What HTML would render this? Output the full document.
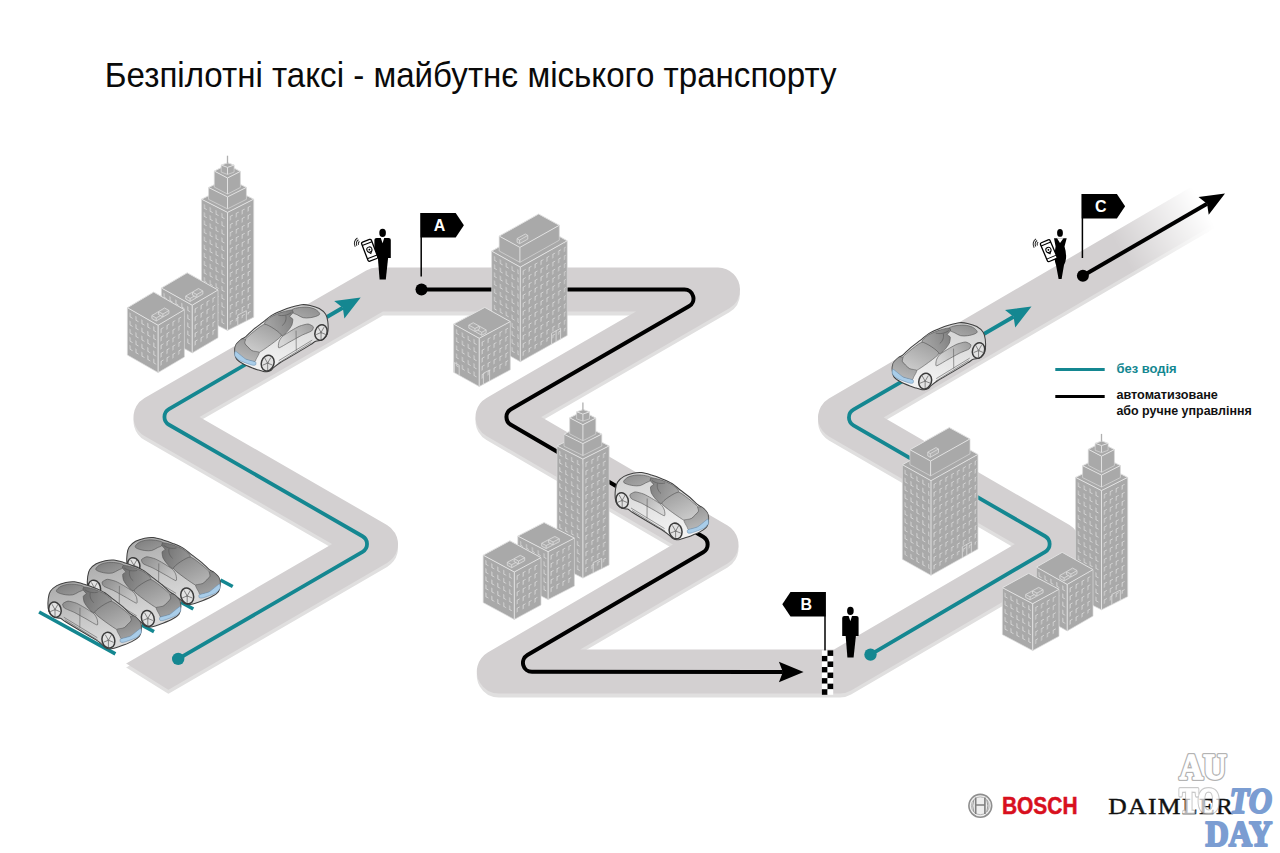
<!DOCTYPE html><html><head><meta charset="utf-8"><style>html,body{margin:0;padding:0;background:#fff;width:1280px;height:853px;overflow:hidden}svg{display:block}text{font-family:"Liberation Sans",sans-serif}</style></head><body>
<svg width="1280" height="853" viewBox="0 0 1280 853">
<defs>
<linearGradient id="fade" gradientUnits="userSpaceOnUse" x1="1121.7" y1="253" x2="1203" y2="205.5"><stop offset="0" stop-color="#fff"/><stop offset="1" stop-color="#000"/></linearGradient>
<mask id="roadmask" maskUnits="userSpaceOnUse" x="0" y="0" width="1280" height="853"><rect x="0" y="0" width="1280" height="853" fill="url(#fade)"/></mask>
<clipPath id="roadclip"><polygon points="-702.7,146.7 997.3,1206.7 2000,1500 2000,-500 -900,-500"/></clipPath>
</defs>
<g mask="url(#roadmask)">
<g transform="translate(0,4)"><path d="M120 692.5 L376 544 L155.5 417 L377.2 289.5 L718 289.5 L497.5 417 L716.5 544.5 L498.8 671.5 L840 671.5 L1058.5 544 L840 417.5 L1300 148.9" clip-path="url(#roadclip)" fill="none" stroke="#e0dfdf" stroke-width="44" stroke-linejoin="round"/></g>
<path d="M120 692.5 L376 544 L155.5 417 L377.2 289.5 L718 289.5 L497.5 417 L716.5 544.5 L498.8 671.5 L840 671.5 L1058.5 544 L840 417.5 L1300 148.9" clip-path="url(#roadclip)" fill="none" stroke="#d3d0d1" stroke-width="44" stroke-linejoin="round"/>
</g>
<path d="M178.2 658.9 L362.55 551.82 A9 9 0 0 0 362.52 536.23 L168.95 424.75 A9 9 0 0 1 168.91 409.18 L342.77 307.75" fill="none" stroke="#148791" stroke-width="3.8"/>
<polygon points="360.7,297.4 344.41,318.58 342.77,307.75 334.21,300.92" fill="#148791"/>
<circle cx="178.2" cy="658.9" r="6.2" fill="#148791"/>
<path d="M421.5 289.5 L684.46 289.5 A9 9 0 0 1 688.96 306.29 L510.93 409.24 A9 9 0 0 0 510.91 424.8 L703.17 536.74 A9 9 0 0 1 703.18 552.29 L527.44 655.05 A9 9 0 0 0 531.97 671.82 L782.9 672" fill="none" stroke="#000" stroke-width="4"/>
<polygon points="803.6,672 778.9,682.2 782.9,672 778.9,661.8" fill="#000"/>
<circle cx="421.5" cy="289.5" r="6" fill="#000"/>
<path d="M870.5 654.6 L1045.21 551.82 A9 9 0 0 0 1045.15 536.27 L853.44 425.28 A9 9 0 0 1 853.43 409.71 L1013.57 316.75" fill="none" stroke="#148791" stroke-width="3.8"/>
<polygon points="1031.5,306.4 1015.21,327.58 1013.57,316.75 1005.01,309.92" fill="#148791"/>
<circle cx="870.5" cy="654.6" r="6.2" fill="#148791"/>
<path d="M1082.9 275.7 L1207.07 203.85" fill="none" stroke="#000" stroke-width="4"/>
<polygon points="1225,193.5 1208.71,214.68 1207.07,203.85 1198.51,197.02" fill="#000"/>
<circle cx="1082.9" cy="275.7" r="6" fill="#000"/>
<polygon points="201.6,199.2 227.5,212.4 227.5,330.4 201.6,317.2" fill="#a9a9a9"/>
<polygon points="227.5,212.4 253.7,199.2 253.7,317.2 227.5,330.4" fill="#a9a9a9"/>
<defs><pattern id="wp1" patternUnits="userSpaceOnUse" width="5.9" height="8.1" patternTransform="translate(202.8,201.7) skewY(27.01)"><path d="M1.6 1.8 V5.8 L3.9 5.8" fill="none" stroke="#d6d6d6" stroke-width="0.9"/></pattern></defs>
<defs><pattern id="wp2" patternUnits="userSpaceOnUse" width="5.9" height="8.1" patternTransform="translate(228.7,214.9) skewY(-26.74)"><path d="M1.8 6.2 V2.2 L4.1 2.2" fill="none" stroke="#d6d6d6" stroke-width="0.9"/></pattern></defs>
<polygon points="203.1,201.2 226,214.4 226,325.4 203.1,312.2" fill="url(#wp1)"/>
<polygon points="229,214.4 252.2,201.2 252.2,312.2 229,325.4" fill="url(#wp2)"/>
<polygon points="201.6,199.2 227.8,186 253.7,199.2 227.5,212.4" fill="#a9a9a9" stroke="#e2e2e2" stroke-width="1" stroke-linejoin="round"/>
<polyline points="227.5,212.4 227.5,330.4" fill="none" stroke="#e2e2e2" stroke-width="1"/>
<polyline points="201.6,199.2 201.6,317.2 227.5,330.4 253.7,317.2 253.7,199.2" fill="none" stroke="#d9d9d9" stroke-width="0.7" stroke-linejoin="round"/>
<polygon points="208.6,187.5 227.5,196.9 227.5,208.85 208.6,199.45" fill="#a9a9a9"/>
<polygon points="227.5,196.9 246.4,187.4 246.4,199.35 227.5,208.85" fill="#a9a9a9"/>
<polygon points="208.6,187.5 227.5,178 246.4,187.4 227.5,196.9" fill="#a9a9a9" stroke="#e2e2e2" stroke-width="1" stroke-linejoin="round"/>
<polyline points="227.5,196.9 227.5,208.85" fill="none" stroke="#e2e2e2" stroke-width="1"/>
<polyline points="208.6,187.5 208.6,199.45 227.5,208.85 246.4,199.35 246.4,187.4" fill="none" stroke="#d9d9d9" stroke-width="0.7" stroke-linejoin="round"/>
<polygon points="214.3,171.1 227.5,178 227.5,194.05 214.3,187.15" fill="#a9a9a9"/>
<polygon points="227.5,178 240.4,171.4 240.4,187.45 227.5,194.05" fill="#a9a9a9"/>
<polygon points="214.3,171.1 227.2,164.5 240.4,171.4 227.5,178" fill="#a9a9a9" stroke="#e2e2e2" stroke-width="1" stroke-linejoin="round"/>
<polyline points="227.5,178 227.5,194.05" fill="none" stroke="#e2e2e2" stroke-width="1"/>
<polyline points="214.3,171.1 214.3,187.15 227.5,194.05 240.4,187.45 240.4,171.4" fill="none" stroke="#d9d9d9" stroke-width="0.7" stroke-linejoin="round"/>
<polygon points="221.2,165.1 227.5,167.4 227.5,174.43 221.2,172.13" fill="#a9a9a9"/>
<polygon points="227.5,167.4 234.1,165.1 234.1,172.13 227.5,174.43" fill="#a9a9a9"/>
<polygon points="221.2,165.1 227.8,162.8 234.1,165.1 227.5,167.4" fill="#a9a9a9" stroke="#e2e2e2" stroke-width="1" stroke-linejoin="round"/>
<polyline points="227.5,167.4 227.5,174.43" fill="none" stroke="#e2e2e2" stroke-width="1"/>
<polyline points="221.2,165.1 221.2,172.13 227.5,174.43 234.1,172.13 234.1,165.1" fill="none" stroke="#d9d9d9" stroke-width="0.7" stroke-linejoin="round"/>
<line x1="227.5" y1="163.4" x2="227.5" y2="155.7" stroke="#b0b0b0" stroke-width="1.3"/>
<path d="M237.8 325.1 l0 -10 l8.5 -4.4 l0 10" fill="none" stroke="#dedede" stroke-width="0.8"/>
<polygon points="161.4,288 192.2,305.2 192.2,352.9 161.4,335.7" fill="#a9a9a9"/>
<polygon points="192.2,305.2 218,290 218,337.7 192.2,352.9" fill="#a9a9a9"/>
<defs><pattern id="wp3" patternUnits="userSpaceOnUse" width="5.9" height="8.1" patternTransform="translate(162.6,290.5) skewY(29.18)"><path d="M1.6 1.8 V5.8 L3.9 5.8" fill="none" stroke="#d6d6d6" stroke-width="0.9"/></pattern></defs>
<defs><pattern id="wp4" patternUnits="userSpaceOnUse" width="5.9" height="8.1" patternTransform="translate(193.4,307.7) skewY(-30.5)"><path d="M1.8 6.2 V2.2 L4.1 2.2" fill="none" stroke="#d6d6d6" stroke-width="0.9"/></pattern></defs>
<polygon points="162.9,290 190.7,307.2 190.7,347.9 162.9,330.7" fill="url(#wp3)"/>
<polygon points="193.7,307.2 216.5,292 216.5,332.7 193.7,347.9" fill="url(#wp4)"/>
<polygon points="161.4,288 187.2,272.8 218,290 192.2,305.2" fill="#a9a9a9" stroke="#e2e2e2" stroke-width="1" stroke-linejoin="round"/>
<polyline points="192.2,305.2 192.2,352.9" fill="none" stroke="#e2e2e2" stroke-width="1"/>
<polyline points="161.4,288 161.4,335.7 192.2,352.9 218,337.7 218,290" fill="none" stroke="#d9d9d9" stroke-width="0.7" stroke-linejoin="round"/>
<path d="M190.11 298.48 L185.74 296.04 L191.77 292.48 L196.14 294.92 Z M185.74 296.04 L185.74 299.04 L190.11 301.48 L196.14 297.92 L196.14 294.92 M190.11 301.48 L190.11 298.48" fill="#b0b0b0" stroke="#dedede" stroke-width="0.8" stroke-linejoin="round"/>
<path d="M196.83 294.52 L192.46 292.08 L198.49 288.52 L202.86 290.96 Z M192.46 292.08 L192.46 295.08 L196.83 297.52 L202.86 293.96 L202.86 290.96 M196.83 297.52 L196.83 294.52" fill="#b0b0b0" stroke="#dedede" stroke-width="0.8" stroke-linejoin="round"/>
<polygon points="127.4,307.7 158.1,325.3 158.1,372.6 127.4,355" fill="#a9a9a9"/>
<polygon points="158.1,325.3 184.4,309.7 184.4,357 158.1,372.6" fill="#a9a9a9"/>
<defs><pattern id="wp5" patternUnits="userSpaceOnUse" width="5.9" height="8.1" patternTransform="translate(128.6,310.2) skewY(29.83)"><path d="M1.6 1.8 V5.8 L3.9 5.8" fill="none" stroke="#d6d6d6" stroke-width="0.9"/></pattern></defs>
<defs><pattern id="wp6" patternUnits="userSpaceOnUse" width="5.9" height="8.1" patternTransform="translate(159.3,327.8) skewY(-30.67)"><path d="M1.8 6.2 V2.2 L4.1 2.2" fill="none" stroke="#d6d6d6" stroke-width="0.9"/></pattern></defs>
<polygon points="128.9,309.7 156.6,327.3 156.6,367.6 128.9,350" fill="url(#wp5)"/>
<polygon points="159.6,327.3 182.9,311.7 182.9,352 159.6,367.6" fill="url(#wp6)"/>
<polygon points="127.4,307.7 153.7,292.1 184.4,309.7 158.1,325.3" fill="#a9a9a9" stroke="#e2e2e2" stroke-width="1" stroke-linejoin="round"/>
<polyline points="158.1,325.3 158.1,372.6" fill="none" stroke="#e2e2e2" stroke-width="1"/>
<polyline points="127.4,307.7 127.4,355 158.1,372.6 184.4,357 184.4,309.7" fill="none" stroke="#d9d9d9" stroke-width="0.7" stroke-linejoin="round"/>
<path d="M156.2 318.02 L151.87 315.53 L157.89 311.96 L162.22 314.45 Z M151.87 315.53 L151.87 318.53 L156.2 321.02 L162.22 317.45 L162.22 314.45 M156.2 321.02 L156.2 318.02" fill="#b0b0b0" stroke="#dedede" stroke-width="0.8" stroke-linejoin="round"/>
<path d="M162.91 314.04 L158.58 311.55 L164.6 307.98 L168.93 310.47 Z M158.58 311.55 L158.58 314.55 L162.91 317.04 L168.93 313.47 L168.93 310.47 M162.91 317.04 L162.91 314.04" fill="#b0b0b0" stroke="#dedede" stroke-width="0.8" stroke-linejoin="round"/>
<polygon points="491.7,251.1 520.3,267.1 520.3,361.7 491.7,345.7" fill="#a9a9a9"/>
<polygon points="520.3,267.1 567.2,240.8 567.2,335.4 520.3,361.7" fill="#a9a9a9"/>
<defs><pattern id="wp7" patternUnits="userSpaceOnUse" width="5.9" height="8.1" patternTransform="translate(492.9,253.6) skewY(29.22)"><path d="M1.6 1.8 V5.8 L3.9 5.8" fill="none" stroke="#d6d6d6" stroke-width="0.9"/></pattern></defs>
<defs><pattern id="wp8" patternUnits="userSpaceOnUse" width="5.9" height="8.1" patternTransform="translate(521.5,269.6) skewY(-29.28)"><path d="M1.8 6.2 V2.2 L4.1 2.2" fill="none" stroke="#d6d6d6" stroke-width="0.9"/></pattern></defs>
<polygon points="493.2,253.1 518.8,269.1 518.8,356.7 493.2,340.7" fill="url(#wp7)"/>
<polygon points="521.8,269.1 565.7,242.8 565.7,330.4 521.8,356.7" fill="url(#wp8)"/>
<polygon points="491.7,251.1 538.6,224.8 567.2,240.8 520.3,267.1" fill="#a9a9a9" stroke="#e2e2e2" stroke-width="1" stroke-linejoin="round"/>
<polyline points="520.3,267.1 520.3,361.7" fill="none" stroke="#e2e2e2" stroke-width="1"/>
<polyline points="491.7,251.1 491.7,345.7 520.3,361.7 567.2,335.4 567.2,240.8" fill="none" stroke="#d9d9d9" stroke-width="0.7" stroke-linejoin="round"/>
<polygon points="499.2,236.1 519.9,247.4 519.9,262.3 499.2,251" fill="#a9a9a9"/>
<polygon points="519.9,247.4 559.3,225.3 559.3,240.2 519.9,262.3" fill="#a9a9a9"/>
<polygon points="499.2,236.1 538.6,214 559.3,225.3 519.9,247.4" fill="#a9a9a9" stroke="#e2e2e2" stroke-width="1" stroke-linejoin="round"/>
<polyline points="519.9,247.4 519.9,262.3" fill="none" stroke="#e2e2e2" stroke-width="1"/>
<polyline points="499.2,236.1 499.2,251 519.9,262.3 559.3,240.2 559.3,225.3" fill="none" stroke="#d9d9d9" stroke-width="0.7" stroke-linejoin="round"/>
<path d="M519.6 240 L517.07 238.58 L525.27 233.99 L527.8 235.4 Z M517.07 238.58 L517.07 242.28 L519.6 243.7 L527.8 239.1 L527.8 235.4 M519.6 243.7 L519.6 240" fill="#b0b0b0" stroke="#dedede" stroke-width="0.8" stroke-linejoin="round"/>
<path d="M551.6 344.3 l0 -11 l9 -5.05 l0 11 M556.1 341.8 l0 -11" fill="none" stroke="#dedede" stroke-width="0.8"/>
<polygon points="453.7,324.1 479.2,338.3 479.2,386.5 453.7,372.3" fill="#a9a9a9"/>
<polygon points="479.2,338.3 510.3,321.6 510.3,369.8 479.2,386.5" fill="#a9a9a9"/>
<defs><pattern id="wp9" patternUnits="userSpaceOnUse" width="5.9" height="8.1" patternTransform="translate(454.9,326.6) skewY(29.11)"><path d="M1.6 1.8 V5.8 L3.9 5.8" fill="none" stroke="#d6d6d6" stroke-width="0.9"/></pattern></defs>
<defs><pattern id="wp10" patternUnits="userSpaceOnUse" width="5.9" height="8.1" patternTransform="translate(480.4,340.8) skewY(-28.23)"><path d="M1.8 6.2 V2.2 L4.1 2.2" fill="none" stroke="#d6d6d6" stroke-width="0.9"/></pattern></defs>
<polygon points="455.2,326.1 477.7,340.3 477.7,381.5 455.2,367.3" fill="url(#wp9)"/>
<polygon points="480.7,340.3 508.8,323.6 508.8,364.8 480.7,381.5" fill="url(#wp10)"/>
<polygon points="453.7,324.1 484.8,307.4 510.3,321.6 479.2,338.3" fill="#a9a9a9" stroke="#e2e2e2" stroke-width="1" stroke-linejoin="round"/>
<polyline points="479.2,338.3 479.2,386.5" fill="none" stroke="#e2e2e2" stroke-width="1"/>
<polyline points="453.7,324.1 453.7,372.3 479.2,386.5 510.3,369.8 510.3,321.6" fill="none" stroke="#d9d9d9" stroke-width="0.7" stroke-linejoin="round"/>
<path d="M481.76 332.28 L475.65 328.88 L480.05 326.51 L486.17 329.92 Z M475.65 328.88 L475.65 331.88 L481.76 335.28 L486.17 332.92 L486.17 329.92 M481.76 335.28 L481.76 332.28" fill="#b0b0b0" stroke="#dedede" stroke-width="0.8" stroke-linejoin="round"/>
<path d="M474.95 328.49 L468.83 325.08 L473.24 322.72 L479.35 326.12 Z M468.83 325.08 L468.83 328.08 L474.95 331.49 L479.35 329.12 L479.35 326.12 M474.95 331.49 L474.95 328.49" fill="#b0b0b0" stroke="#dedede" stroke-width="0.8" stroke-linejoin="round"/>
<path d="M454.4 372.6 v-10 l4.8 2.7 v10 M483.4 384.3 v-11 l6.2 -3.3 v11" fill="none" stroke="#dedede" stroke-width="0.8"/>
<polygon points="557,445.9 582.9,459.1 582.9,578.1 557,564.9" fill="#a9a9a9"/>
<polygon points="582.9,459.1 609.1,445.9 609.1,564.9 582.9,578.1" fill="#a9a9a9"/>
<defs><pattern id="wp11" patternUnits="userSpaceOnUse" width="5.9" height="8.1" patternTransform="translate(558.2,448.4) skewY(27.01)"><path d="M1.6 1.8 V5.8 L3.9 5.8" fill="none" stroke="#d6d6d6" stroke-width="0.9"/></pattern></defs>
<defs><pattern id="wp12" patternUnits="userSpaceOnUse" width="5.9" height="8.1" patternTransform="translate(584.1,461.6) skewY(-26.74)"><path d="M1.8 6.2 V2.2 L4.1 2.2" fill="none" stroke="#d6d6d6" stroke-width="0.9"/></pattern></defs>
<polygon points="558.5,447.9 581.4,461.1 581.4,573.1 558.5,559.9" fill="url(#wp11)"/>
<polygon points="584.4,461.1 607.6,447.9 607.6,559.9 584.4,573.1" fill="url(#wp12)"/>
<polygon points="557,445.9 583.2,432.7 609.1,445.9 582.9,459.1" fill="#a9a9a9" stroke="#e2e2e2" stroke-width="1" stroke-linejoin="round"/>
<polyline points="582.9,459.1 582.9,578.1" fill="none" stroke="#e2e2e2" stroke-width="1"/>
<polyline points="557,445.9 557,564.9 582.9,578.1 609.1,564.9 609.1,445.9" fill="none" stroke="#d9d9d9" stroke-width="0.7" stroke-linejoin="round"/>
<polygon points="564,434.2 582.9,443.6 582.9,455.55 564,446.15" fill="#a9a9a9"/>
<polygon points="582.9,443.6 601.8,434.1 601.8,446.05 582.9,455.55" fill="#a9a9a9"/>
<polygon points="564,434.2 582.9,424.7 601.8,434.1 582.9,443.6" fill="#a9a9a9" stroke="#e2e2e2" stroke-width="1" stroke-linejoin="round"/>
<polyline points="582.9,443.6 582.9,455.55" fill="none" stroke="#e2e2e2" stroke-width="1"/>
<polyline points="564,434.2 564,446.15 582.9,455.55 601.8,446.05 601.8,434.1" fill="none" stroke="#d9d9d9" stroke-width="0.7" stroke-linejoin="round"/>
<polygon points="569.7,417.8 582.9,424.7 582.9,440.75 569.7,433.85" fill="#a9a9a9"/>
<polygon points="582.9,424.7 595.8,418.1 595.8,434.15 582.9,440.75" fill="#a9a9a9"/>
<polygon points="569.7,417.8 582.6,411.2 595.8,418.1 582.9,424.7" fill="#a9a9a9" stroke="#e2e2e2" stroke-width="1" stroke-linejoin="round"/>
<polyline points="582.9,424.7 582.9,440.75" fill="none" stroke="#e2e2e2" stroke-width="1"/>
<polyline points="569.7,417.8 569.7,433.85 582.9,440.75 595.8,434.15 595.8,418.1" fill="none" stroke="#d9d9d9" stroke-width="0.7" stroke-linejoin="round"/>
<polygon points="576.6,411.8 582.9,414.1 582.9,421.13 576.6,418.83" fill="#a9a9a9"/>
<polygon points="582.9,414.1 589.5,411.8 589.5,418.83 582.9,421.13" fill="#a9a9a9"/>
<polygon points="576.6,411.8 583.2,409.5 589.5,411.8 582.9,414.1" fill="#a9a9a9" stroke="#e2e2e2" stroke-width="1" stroke-linejoin="round"/>
<polyline points="582.9,414.1 582.9,421.13" fill="none" stroke="#e2e2e2" stroke-width="1"/>
<polyline points="576.6,411.8 576.6,418.83 582.9,421.13 589.5,418.83 589.5,411.8" fill="none" stroke="#d9d9d9" stroke-width="0.7" stroke-linejoin="round"/>
<line x1="582.9" y1="410.1" x2="582.9" y2="402.4" stroke="#b0b0b0" stroke-width="1.3"/>
<path d="M593.2 572.8 l0 -10 l8.5 -4.4 l0 10" fill="none" stroke="#dedede" stroke-width="0.8"/>
<polygon points="517.8,536.1 548.1,551.7 548.1,599.6 517.8,584" fill="#a9a9a9"/>
<polygon points="548.1,551.7 574.4,538.1 574.4,586 548.1,599.6" fill="#a9a9a9"/>
<defs><pattern id="wp13" patternUnits="userSpaceOnUse" width="5.9" height="8.1" patternTransform="translate(519,538.6) skewY(27.24)"><path d="M1.6 1.8 V5.8 L3.9 5.8" fill="none" stroke="#d6d6d6" stroke-width="0.9"/></pattern></defs>
<defs><pattern id="wp14" patternUnits="userSpaceOnUse" width="5.9" height="8.1" patternTransform="translate(549.3,554.2) skewY(-27.34)"><path d="M1.8 6.2 V2.2 L4.1 2.2" fill="none" stroke="#d6d6d6" stroke-width="0.9"/></pattern></defs>
<polygon points="519.3,538.1 546.6,553.7 546.6,594.6 519.3,579" fill="url(#wp13)"/>
<polygon points="549.6,553.7 572.9,540.1 572.9,581 549.6,594.6" fill="url(#wp14)"/>
<polygon points="517.8,536.1 544.1,522.5 574.4,538.1 548.1,551.7" fill="#a9a9a9" stroke="#e2e2e2" stroke-width="1" stroke-linejoin="round"/>
<polyline points="548.1,551.7 548.1,599.6" fill="none" stroke="#e2e2e2" stroke-width="1"/>
<polyline points="517.8,536.1 517.8,584 548.1,599.6 574.4,586 574.4,538.1" fill="none" stroke="#d9d9d9" stroke-width="0.7" stroke-linejoin="round"/>
<path d="M546.15 545.54 L541.7 543.25 L547.92 540.04 L552.37 542.33 Z M541.7 543.25 L541.7 546.25 L546.15 548.54 L552.37 545.33 L552.37 542.33 M546.15 548.54 L546.15 545.54" fill="#b0b0b0" stroke="#dedede" stroke-width="0.8" stroke-linejoin="round"/>
<path d="M553.08 541.96 L548.63 539.67 L554.85 536.46 L559.3 538.75 Z M548.63 539.67 L548.63 542.67 L553.08 544.96 L559.3 541.75 L559.3 538.75 M553.08 544.96 L553.08 541.96" fill="#b0b0b0" stroke="#dedede" stroke-width="0.8" stroke-linejoin="round"/>
<polygon points="483.2,555.2 514.3,572 514.3,619.4 483.2,602.6" fill="#a9a9a9"/>
<polygon points="514.3,572 541,557.6 541,605 514.3,619.4" fill="#a9a9a9"/>
<defs><pattern id="wp15" patternUnits="userSpaceOnUse" width="5.9" height="8.1" patternTransform="translate(484.4,557.7) skewY(28.38)"><path d="M1.6 1.8 V5.8 L3.9 5.8" fill="none" stroke="#d6d6d6" stroke-width="0.9"/></pattern></defs>
<defs><pattern id="wp16" patternUnits="userSpaceOnUse" width="5.9" height="8.1" patternTransform="translate(515.5,574.5) skewY(-28.34)"><path d="M1.8 6.2 V2.2 L4.1 2.2" fill="none" stroke="#d6d6d6" stroke-width="0.9"/></pattern></defs>
<polygon points="484.7,557.2 512.8,574 512.8,614.4 484.7,597.6" fill="url(#wp15)"/>
<polygon points="515.8,574 539.5,559.6 539.5,600 515.8,614.4" fill="url(#wp16)"/>
<polygon points="483.2,555.2 509.9,540.8 541,557.6 514.3,572" fill="#a9a9a9" stroke="#e2e2e2" stroke-width="1" stroke-linejoin="round"/>
<polyline points="514.3,572 514.3,619.4" fill="none" stroke="#e2e2e2" stroke-width="1"/>
<polyline points="483.2,555.2 483.2,602.6 514.3,619.4 541,605 541,557.6" fill="none" stroke="#d9d9d9" stroke-width="0.7" stroke-linejoin="round"/>
<path d="M511.69 564.7 L507.29 562.32 L513.45 559 L517.85 561.38 Z M507.29 562.32 L507.29 565.32 L511.69 567.7 L517.85 564.38 L517.85 561.38 M511.69 567.7 L511.69 564.7" fill="#b0b0b0" stroke="#dedede" stroke-width="0.8" stroke-linejoin="round"/>
<path d="M518.55 561 L514.15 558.62 L520.31 555.3 L524.71 557.68 Z M514.15 558.62 L514.15 561.62 L518.55 564 L524.71 560.68 L524.71 557.68 M518.55 564 L518.55 561" fill="#b0b0b0" stroke="#dedede" stroke-width="0.8" stroke-linejoin="round"/>
<polygon points="902.4,464.7 931,480.7 931,575.3 902.4,559.3" fill="#a9a9a9"/>
<polygon points="931,480.7 977.9,454.4 977.9,549 931,575.3" fill="#a9a9a9"/>
<defs><pattern id="wp17" patternUnits="userSpaceOnUse" width="5.9" height="8.1" patternTransform="translate(903.6,467.2) skewY(29.22)"><path d="M1.6 1.8 V5.8 L3.9 5.8" fill="none" stroke="#d6d6d6" stroke-width="0.9"/></pattern></defs>
<defs><pattern id="wp18" patternUnits="userSpaceOnUse" width="5.9" height="8.1" patternTransform="translate(932.2,483.2) skewY(-29.28)"><path d="M1.8 6.2 V2.2 L4.1 2.2" fill="none" stroke="#d6d6d6" stroke-width="0.9"/></pattern></defs>
<polygon points="903.9,466.7 929.5,482.7 929.5,570.3 903.9,554.3" fill="url(#wp17)"/>
<polygon points="932.5,482.7 976.4,456.4 976.4,544 932.5,570.3" fill="url(#wp18)"/>
<polygon points="902.4,464.7 949.3,438.4 977.9,454.4 931,480.7" fill="#a9a9a9" stroke="#e2e2e2" stroke-width="1" stroke-linejoin="round"/>
<polyline points="931,480.7 931,575.3" fill="none" stroke="#e2e2e2" stroke-width="1"/>
<polyline points="902.4,464.7 902.4,559.3 931,575.3 977.9,549 977.9,454.4" fill="none" stroke="#d9d9d9" stroke-width="0.7" stroke-linejoin="round"/>
<polygon points="909.9,449.7 930.6,461 930.6,475.9 909.9,464.6" fill="#a9a9a9"/>
<polygon points="930.6,461 970,438.9 970,453.8 930.6,475.9" fill="#a9a9a9"/>
<polygon points="909.9,449.7 949.3,427.6 970,438.9 930.6,461" fill="#a9a9a9" stroke="#e2e2e2" stroke-width="1" stroke-linejoin="round"/>
<polyline points="930.6,461 930.6,475.9" fill="none" stroke="#e2e2e2" stroke-width="1"/>
<polyline points="909.9,449.7 909.9,464.6 930.6,475.9 970,453.8 970,438.9" fill="none" stroke="#d9d9d9" stroke-width="0.7" stroke-linejoin="round"/>
<path d="M930.3 453.6 L927.77 452.18 L935.97 447.59 L938.5 449 Z M927.77 452.18 L927.77 455.88 L930.3 457.3 L938.5 452.7 L938.5 449 M930.3 457.3 L930.3 453.6" fill="#b0b0b0" stroke="#dedede" stroke-width="0.8" stroke-linejoin="round"/>
<path d="M962.3 557.9 l0 -11 l9 -5.05 l0 11 M966.8 555.4 l0 -11" fill="none" stroke="#dedede" stroke-width="0.8"/>
<polygon points="1075.6,477.4 1101.5,490.6 1101.5,609.8 1075.6,596.6" fill="#a9a9a9"/>
<polygon points="1101.5,490.6 1127.7,477.4 1127.7,596.6 1101.5,609.8" fill="#a9a9a9"/>
<defs><pattern id="wp19" patternUnits="userSpaceOnUse" width="5.9" height="8.1" patternTransform="translate(1076.8,479.9) skewY(27.01)"><path d="M1.6 1.8 V5.8 L3.9 5.8" fill="none" stroke="#d6d6d6" stroke-width="0.9"/></pattern></defs>
<defs><pattern id="wp20" patternUnits="userSpaceOnUse" width="5.9" height="8.1" patternTransform="translate(1102.7,493.1) skewY(-26.74)"><path d="M1.8 6.2 V2.2 L4.1 2.2" fill="none" stroke="#d6d6d6" stroke-width="0.9"/></pattern></defs>
<polygon points="1077.1,479.4 1100,492.6 1100,604.8 1077.1,591.6" fill="url(#wp19)"/>
<polygon points="1103,492.6 1126.2,479.4 1126.2,591.6 1103,604.8" fill="url(#wp20)"/>
<polygon points="1075.6,477.4 1101.8,464.2 1127.7,477.4 1101.5,490.6" fill="#a9a9a9" stroke="#e2e2e2" stroke-width="1" stroke-linejoin="round"/>
<polyline points="1101.5,490.6 1101.5,609.8" fill="none" stroke="#e2e2e2" stroke-width="1"/>
<polyline points="1075.6,477.4 1075.6,596.6 1101.5,609.8 1127.7,596.6 1127.7,477.4" fill="none" stroke="#d9d9d9" stroke-width="0.7" stroke-linejoin="round"/>
<polygon points="1082.6,465.7 1101.5,475.1 1101.5,487.05 1082.6,477.65" fill="#a9a9a9"/>
<polygon points="1101.5,475.1 1120.4,465.6 1120.4,477.55 1101.5,487.05" fill="#a9a9a9"/>
<polygon points="1082.6,465.7 1101.5,456.2 1120.4,465.6 1101.5,475.1" fill="#a9a9a9" stroke="#e2e2e2" stroke-width="1" stroke-linejoin="round"/>
<polyline points="1101.5,475.1 1101.5,487.05" fill="none" stroke="#e2e2e2" stroke-width="1"/>
<polyline points="1082.6,465.7 1082.6,477.65 1101.5,487.05 1120.4,477.55 1120.4,465.6" fill="none" stroke="#d9d9d9" stroke-width="0.7" stroke-linejoin="round"/>
<polygon points="1088.3,449.3 1101.5,456.2 1101.5,472.25 1088.3,465.35" fill="#a9a9a9"/>
<polygon points="1101.5,456.2 1114.4,449.6 1114.4,465.65 1101.5,472.25" fill="#a9a9a9"/>
<polygon points="1088.3,449.3 1101.2,442.7 1114.4,449.6 1101.5,456.2" fill="#a9a9a9" stroke="#e2e2e2" stroke-width="1" stroke-linejoin="round"/>
<polyline points="1101.5,456.2 1101.5,472.25" fill="none" stroke="#e2e2e2" stroke-width="1"/>
<polyline points="1088.3,449.3 1088.3,465.35 1101.5,472.25 1114.4,465.65 1114.4,449.6" fill="none" stroke="#d9d9d9" stroke-width="0.7" stroke-linejoin="round"/>
<polygon points="1095.2,443.3 1101.5,445.6 1101.5,452.63 1095.2,450.33" fill="#a9a9a9"/>
<polygon points="1101.5,445.6 1108.1,443.3 1108.1,450.33 1101.5,452.63" fill="#a9a9a9"/>
<polygon points="1095.2,443.3 1101.8,441 1108.1,443.3 1101.5,445.6" fill="#a9a9a9" stroke="#e2e2e2" stroke-width="1" stroke-linejoin="round"/>
<polyline points="1101.5,445.6 1101.5,452.63" fill="none" stroke="#e2e2e2" stroke-width="1"/>
<polyline points="1095.2,443.3 1095.2,450.33 1101.5,452.63 1108.1,450.33 1108.1,443.3" fill="none" stroke="#d9d9d9" stroke-width="0.7" stroke-linejoin="round"/>
<line x1="1101.5" y1="441.6" x2="1101.5" y2="433.9" stroke="#b0b0b0" stroke-width="1.3"/>
<path d="M1111.8 604.5 l0 -10 l8.5 -4.4 l0 10" fill="none" stroke="#dedede" stroke-width="0.8"/>
<polygon points="1036.4,567.1 1067.2,584.4 1067.2,630.9 1036.4,613.6" fill="#a9a9a9"/>
<polygon points="1067.2,584.4 1093,569.6 1093,616.1 1067.2,630.9" fill="#a9a9a9"/>
<defs><pattern id="wp21" patternUnits="userSpaceOnUse" width="5.9" height="8.1" patternTransform="translate(1037.6,569.6) skewY(29.32)"><path d="M1.6 1.8 V5.8 L3.9 5.8" fill="none" stroke="#d6d6d6" stroke-width="0.9"/></pattern></defs>
<defs><pattern id="wp22" patternUnits="userSpaceOnUse" width="5.9" height="8.1" patternTransform="translate(1068.4,586.9) skewY(-29.84)"><path d="M1.8 6.2 V2.2 L4.1 2.2" fill="none" stroke="#d6d6d6" stroke-width="0.9"/></pattern></defs>
<polygon points="1037.9,569.1 1065.7,586.4 1065.7,625.9 1037.9,608.6" fill="url(#wp21)"/>
<polygon points="1068.7,586.4 1091.5,571.6 1091.5,611.1 1068.7,625.9" fill="url(#wp22)"/>
<polygon points="1036.4,567.1 1062.2,552.3 1093,569.6 1067.2,584.4" fill="#a9a9a9" stroke="#e2e2e2" stroke-width="1" stroke-linejoin="round"/>
<polyline points="1067.2,584.4 1067.2,630.9" fill="none" stroke="#e2e2e2" stroke-width="1"/>
<polyline points="1036.4,567.1 1036.4,613.6 1067.2,630.9 1093,616.1 1093,569.6" fill="none" stroke="#d9d9d9" stroke-width="0.7" stroke-linejoin="round"/>
<path d="M1064.16 577.91 L1059.8 575.46 L1065.87 571.97 L1070.23 574.42 Z M1059.8 575.46 L1059.8 578.46 L1064.16 580.91 L1070.23 577.42 L1070.23 574.42 M1064.16 580.91 L1064.16 577.91" fill="#b0b0b0" stroke="#dedede" stroke-width="0.8" stroke-linejoin="round"/>
<path d="M1070.93 574.03 L1066.57 571.58 L1072.64 568.09 L1077 570.54 Z M1066.57 571.58 L1066.57 574.58 L1070.93 577.03 L1077 573.54 L1077 570.54 M1070.93 577.03 L1070.93 574.03" fill="#b0b0b0" stroke="#dedede" stroke-width="0.8" stroke-linejoin="round"/>
<polygon points="1002.4,587.7 1032.7,603.7 1032.7,650.6 1002.4,634.6" fill="#a9a9a9"/>
<polygon points="1032.7,603.7 1059,589.3 1059,636.2 1032.7,650.6" fill="#a9a9a9"/>
<defs><pattern id="wp23" patternUnits="userSpaceOnUse" width="5.9" height="8.1" patternTransform="translate(1003.6,590.2) skewY(27.84)"><path d="M1.6 1.8 V5.8 L3.9 5.8" fill="none" stroke="#d6d6d6" stroke-width="0.9"/></pattern></defs>
<defs><pattern id="wp24" patternUnits="userSpaceOnUse" width="5.9" height="8.1" patternTransform="translate(1033.9,606.2) skewY(-28.7)"><path d="M1.8 6.2 V2.2 L4.1 2.2" fill="none" stroke="#d6d6d6" stroke-width="0.9"/></pattern></defs>
<polygon points="1003.9,589.7 1031.2,605.7 1031.2,645.6 1003.9,629.6" fill="url(#wp23)"/>
<polygon points="1034.2,605.7 1057.5,591.3 1057.5,631.2 1034.2,645.6" fill="url(#wp24)"/>
<polygon points="1002.4,587.7 1028.7,573.3 1059,589.3 1032.7,603.7" fill="#a9a9a9" stroke="#e2e2e2" stroke-width="1" stroke-linejoin="round"/>
<polyline points="1032.7,603.7 1032.7,650.6" fill="none" stroke="#e2e2e2" stroke-width="1"/>
<polyline points="1002.4,587.7 1002.4,634.6 1032.7,650.6 1059,636.2 1059,589.3" fill="none" stroke="#d9d9d9" stroke-width="0.7" stroke-linejoin="round"/>
<path d="M1030.12 596.82 L1025.7 594.49 L1031.84 591.12 L1036.26 593.46 Z M1025.7 594.49 L1025.7 597.49 L1030.12 599.82 L1036.26 596.46 L1036.26 593.46 M1030.12 599.82 L1030.12 596.82" fill="#b0b0b0" stroke="#dedede" stroke-width="0.8" stroke-linejoin="round"/>
<path d="M1036.96 593.08 L1032.54 590.74 L1038.68 587.38 L1043.1 589.71 Z M1032.54 590.74 L1032.54 593.74 L1036.96 596.08 L1043.1 592.71 L1043.1 589.71 M1036.96 596.08 L1036.96 593.08" fill="#b0b0b0" stroke="#dedede" stroke-width="0.8" stroke-linejoin="round"/>
<defs>
<linearGradient id="cbody" x1="0" y1="0" x2="0.3" y2="1"><stop offset="0" stop-color="#cfcfcf"/><stop offset="1" stop-color="#f2f2f2"/></linearGradient>
<linearGradient id="crear" x1="0" y1="0" x2="1" y2="1"><stop offset="0" stop-color="#8c8c8c"/><stop offset="1" stop-color="#ababab"/></linearGradient>
<linearGradient id="croof" x1="0" y1="0" x2="1" y2="0.4"><stop offset="0" stop-color="#7d7d7d"/><stop offset="1" stop-color="#a5a5a5"/></linearGradient>
<linearGradient id="cglass" x1="0" y1="0" x2="0.6" y2="1"><stop offset="0" stop-color="#9a9a9a"/><stop offset="1" stop-color="#c9c9c9"/></linearGradient>
<linearGradient id="cside" x1="0" y1="0" x2="1" y2="0.6"><stop offset="0" stop-color="#9c9c9c"/><stop offset="1" stop-color="#d6d6d6"/></linearGradient>
<linearGradient id="cfront" x1="0" y1="0" x2="0.4" y2="1"><stop offset="0" stop-color="#8f8f8f"/><stop offset="1" stop-color="#b8b8b8"/></linearGradient>
<linearGradient id="pbody" x1="0" y1="0" x2="0.3" y2="1"><stop offset="0" stop-color="#a9a9a9"/><stop offset="1" stop-color="#dadada"/></linearGradient>
<linearGradient id="prear" x1="0" y1="0" x2="1" y2="1"><stop offset="0" stop-color="#7c7c7c"/><stop offset="1" stop-color="#9c9c9c"/></linearGradient>
<linearGradient id="proof" x1="0" y1="0" x2="1" y2="0.4"><stop offset="0" stop-color="#6e6e6e"/><stop offset="1" stop-color="#939393"/></linearGradient>
<linearGradient id="pglass" x1="0" y1="0" x2="0.6" y2="1"><stop offset="0" stop-color="#868686"/><stop offset="1" stop-color="#b3b3b3"/></linearGradient>
<linearGradient id="pside" x1="0" y1="0" x2="1" y2="0.6"><stop offset="0" stop-color="#8a8a8a"/><stop offset="1" stop-color="#c6c6c6"/></linearGradient>
<linearGradient id="pfront" x1="0" y1="0" x2="0.4" y2="1"><stop offset="0" stop-color="#7c7c7c"/><stop offset="1" stop-color="#a0a0a0"/></linearGradient>
<g id="carA"><path d="M615.5 489.1 C615.88 486.32 616.18 484.22 617.6 482.1 C619.02 479.98 621.42 477.87 624 476.4 C626.58 474.93 630.18 473.93 633.1 473.3 C636.02 472.67 638.45 472.32 641.5 472.6 C644.55 472.88 648.12 474.02 651.4 475 C654.68 475.98 657.77 477.08 661.2 478.5 C664.63 479.92 668.83 481.58 672 483.5 C675.17 485.42 677.2 487.67 680.2 490 C683.2 492.33 687.08 495.05 690 497.5 C692.92 499.95 695.65 503.03 697.7 504.7 C699.75 506.37 700.83 506.37 702.3 507.5 C703.77 508.63 705.48 510.08 706.5 511.5 C707.52 512.92 708.08 514.47 708.4 516 C708.72 517.53 708.67 518.9 708.4 520.7 C708.13 522.5 708.08 525.02 706.8 526.8 C705.52 528.58 703.37 529.88 700.7 531.4 C698.03 532.92 693.5 534.8 690.8 535.9 C688.1 537 686.3 537.42 684.5 538 C682.7 538.58 681.37 539.12 680 539.4 C678.63 539.68 677.55 539.87 676.3 539.7 C675.05 539.53 673.6 539.08 672.5 538.4 C671.4 537.72 671.25 536.88 669.7 535.6 C668.15 534.32 666.95 533.08 663.2 530.7 C659.45 528.32 652.22 524.28 647.2 521.3 C642.18 518.32 636.38 514.83 633.1 512.8 C629.82 510.77 629.37 509.87 627.5 509.1 C625.63 508.33 623.62 508.98 621.9 508.2 C620.18 507.42 618.3 505.97 617.2 504.4 C616.1 502.83 615.58 501.35 615.3 498.8 C615.02 496.25 615.12 491.88 615.5 489.1Z" fill="url(#cbody)" stroke="#404040" stroke-width="1.05"/><path d="M623.6 481.4 C623.95 480.28 626.03 478.17 628.2 477.1 C630.37 476.03 633.67 475.23 636.6 475 C639.53 474.77 643.33 475.23 645.8 475.7 C648.27 476.17 650.65 476.97 651.4 477.8 C652.15 478.63 651.23 479.87 650.3 480.7 C649.37 481.53 647.5 481.98 645.8 482.8 C644.1 483.62 642.22 485.13 640.1 485.6 C637.98 486.07 635.43 485.9 633.1 485.6 C630.77 485.3 627.68 484.5 626.1 483.8 C624.52 483.1 623.25 482.52 623.6 481.4Z" fill="url(#crear)" stroke="#505050" stroke-width="0.6"/><path d="M651.4 477.8 C652.49 477.73 659.14 479.31 661.2 480 C663.26 480.69 670.26 483.49 672 484.7 C673.74 485.91 679.61 490.22 678.6 492.1 C677.59 493.98 664.2 502.81 661.9 503.5 C659.6 504.19 656.65 500.05 655.6 499 C654.55 497.95 651.91 494.2 651.4 493 C650.89 491.8 650.29 487.85 650.5 487 C650.71 486.15 653.52 485.13 653.5 484.5 C653.48 483.87 650.51 481.37 650.3 480.7 C650.09 480.03 650.31 477.87 651.4 477.8Z" fill="url(#croof)" stroke="#505050" stroke-width="0.6"/><path d="M678.6 492.1 C681.55 492.33 695.65 504.58 697.3 506.2 C698.95 507.82 698.88 510.48 698.4 511.5 C697.92 512.52 692.8 517.67 691.6 518.4 C690.4 519.13 686.48 521.54 684 520.3 C681.52 519.06 662.35 505.85 661.9 503.5 C661.45 501.15 675.65 491.88 678.6 492.1Z" fill="url(#cglass)" stroke="#505050" stroke-width="0.6"/><path d="M684 520.3 C684.46 519.46 690.16 519.28 691.6 518.4 C693.04 517.52 697.79 512.64 698.4 511.5 C699.01 510.36 697.31 507.4 697.7 507 C698.09 506.6 701.31 506.89 702.3 507.5 C703.29 508.11 706.99 511.78 707.6 513.1 C708.21 514.42 708.78 519.48 708.4 520.7 C708.02 521.92 705.71 524.39 703.8 525.3 C701.89 526.21 690.98 529.65 689.3 529.8 C687.62 529.95 687.53 527.75 687 526.8 C686.47 525.85 683.54 521.14 684 520.3Z" fill="url(#cfront)" stroke="#555" stroke-width="0.5"/><path d="M652 480.5 C656 483.5 661 484 665 483 M657.5 483.5 C656.5 487 658 491 661 493.5" fill="none" stroke="#555" stroke-width="0.6"/><path d="M629.9 494.7 C630.25 494 633.83 491.97 635.2 491.9 C636.57 491.83 641.98 493.37 643.6 494 C645.22 494.63 649.64 497.14 651.4 498.2 C653.16 499.26 659.9 503.4 661.2 504.6 C662.5 505.8 664.08 509.08 664.4 510.2 C664.72 511.32 665.42 515.8 664.4 515.8 C663.38 515.8 656.49 511.46 654.2 510.2 C651.91 508.94 643.75 504.33 641.5 503.2 C639.25 502.07 632.86 499.75 631.7 498.9 C630.54 498.05 629.55 495.4 629.9 494.7Z" fill="url(#cside)" stroke="#505050" stroke-width="0.6"/><path d="M647.2 498.5 L647 518.5 M631 508 L664.5 528.5 M632 510.5 L665 531" fill="none" stroke="#5c5c5c" stroke-width="0.6"/><ellipse cx="622.2" cy="500.4" rx="6.0" ry="7.8" transform="rotate(-18 622.2 500.4)" fill="#e2e2e2" stroke="#3a3a3a" stroke-width="1.5"/><path d="M622.2 500.4 L622.2 507.03 M622.2 500.4 L617.35 502.45 M622.2 500.4 L619.2 495.04 M622.2 500.4 L625.2 495.04 M622.2 500.4 L627.05 502.45 " stroke="#6a6a6a" stroke-width="0.8"/><circle cx="622.2" cy="500.4" r="1" fill="#777"/><ellipse cx="675.6" cy="531.0" rx="6.3" ry="8.0" transform="rotate(-18 675.6 531.0)" fill="#e2e2e2" stroke="#3a3a3a" stroke-width="1.5"/><path d="M675.6 531 L675.6 537.8 M675.6 531 L670.51 533.1 M675.6 531 L672.45 525.5 M675.6 531 L678.75 525.5 M675.6 531 L680.69 533.1 " stroke="#6a6a6a" stroke-width="0.8"/><circle cx="675.6" cy="531.0" r="1" fill="#777"/><path d="M687.8 529.8 C688.79 529.19 695.72 527.86 697.7 526.8 C699.68 525.74 706.53 519.51 707.6 519.2 C708.67 518.89 708.78 522.79 708.4 523.7 C708.02 524.61 705.48 527.38 703.8 528.3 C702.12 529.22 693.2 532.44 691.6 532.9 C690 533.36 688.18 533.21 687.8 532.9 C687.42 532.59 686.81 530.41 687.8 529.8Z" fill="#a9cde9" stroke="#5f84a6" stroke-width="0.5"/></g>
<g id="carP"><path d="M615.5 489.1 C615.88 486.32 616.18 484.22 617.6 482.1 C619.02 479.98 621.42 477.87 624 476.4 C626.58 474.93 630.18 473.93 633.1 473.3 C636.02 472.67 638.45 472.32 641.5 472.6 C644.55 472.88 648.12 474.02 651.4 475 C654.68 475.98 657.77 477.08 661.2 478.5 C664.63 479.92 668.83 481.58 672 483.5 C675.17 485.42 677.2 487.67 680.2 490 C683.2 492.33 687.08 495.05 690 497.5 C692.92 499.95 695.65 503.03 697.7 504.7 C699.75 506.37 700.83 506.37 702.3 507.5 C703.77 508.63 705.48 510.08 706.5 511.5 C707.52 512.92 708.08 514.47 708.4 516 C708.72 517.53 708.67 518.9 708.4 520.7 C708.13 522.5 708.08 525.02 706.8 526.8 C705.52 528.58 703.37 529.88 700.7 531.4 C698.03 532.92 693.5 534.8 690.8 535.9 C688.1 537 686.3 537.42 684.5 538 C682.7 538.58 681.37 539.12 680 539.4 C678.63 539.68 677.55 539.87 676.3 539.7 C675.05 539.53 673.6 539.08 672.5 538.4 C671.4 537.72 671.25 536.88 669.7 535.6 C668.15 534.32 666.95 533.08 663.2 530.7 C659.45 528.32 652.22 524.28 647.2 521.3 C642.18 518.32 636.38 514.83 633.1 512.8 C629.82 510.77 629.37 509.87 627.5 509.1 C625.63 508.33 623.62 508.98 621.9 508.2 C620.18 507.42 618.3 505.97 617.2 504.4 C616.1 502.83 615.58 501.35 615.3 498.8 C615.02 496.25 615.12 491.88 615.5 489.1Z" fill="url(#pbody)" stroke="#404040" stroke-width="1.05"/><path d="M623.6 481.4 C623.95 480.28 626.03 478.17 628.2 477.1 C630.37 476.03 633.67 475.23 636.6 475 C639.53 474.77 643.33 475.23 645.8 475.7 C648.27 476.17 650.65 476.97 651.4 477.8 C652.15 478.63 651.23 479.87 650.3 480.7 C649.37 481.53 647.5 481.98 645.8 482.8 C644.1 483.62 642.22 485.13 640.1 485.6 C637.98 486.07 635.43 485.9 633.1 485.6 C630.77 485.3 627.68 484.5 626.1 483.8 C624.52 483.1 623.25 482.52 623.6 481.4Z" fill="url(#prear)" stroke="#505050" stroke-width="0.6"/><path d="M651.4 477.8 C652.49 477.73 659.14 479.31 661.2 480 C663.26 480.69 670.26 483.49 672 484.7 C673.74 485.91 679.61 490.22 678.6 492.1 C677.59 493.98 664.2 502.81 661.9 503.5 C659.6 504.19 656.65 500.05 655.6 499 C654.55 497.95 651.91 494.2 651.4 493 C650.89 491.8 650.29 487.85 650.5 487 C650.71 486.15 653.52 485.13 653.5 484.5 C653.48 483.87 650.51 481.37 650.3 480.7 C650.09 480.03 650.31 477.87 651.4 477.8Z" fill="url(#proof)" stroke="#505050" stroke-width="0.6"/><path d="M678.6 492.1 C681.55 492.33 695.65 504.58 697.3 506.2 C698.95 507.82 698.88 510.48 698.4 511.5 C697.92 512.52 692.8 517.67 691.6 518.4 C690.4 519.13 686.48 521.54 684 520.3 C681.52 519.06 662.35 505.85 661.9 503.5 C661.45 501.15 675.65 491.88 678.6 492.1Z" fill="url(#pglass)" stroke="#505050" stroke-width="0.6"/><path d="M684 520.3 C684.46 519.46 690.16 519.28 691.6 518.4 C693.04 517.52 697.79 512.64 698.4 511.5 C699.01 510.36 697.31 507.4 697.7 507 C698.09 506.6 701.31 506.89 702.3 507.5 C703.29 508.11 706.99 511.78 707.6 513.1 C708.21 514.42 708.78 519.48 708.4 520.7 C708.02 521.92 705.71 524.39 703.8 525.3 C701.89 526.21 690.98 529.65 689.3 529.8 C687.62 529.95 687.53 527.75 687 526.8 C686.47 525.85 683.54 521.14 684 520.3Z" fill="url(#pfront)" stroke="#555" stroke-width="0.5"/><path d="M652 480.5 C656 483.5 661 484 665 483 M657.5 483.5 C656.5 487 658 491 661 493.5" fill="none" stroke="#555" stroke-width="0.6"/><path d="M629.9 494.7 C630.25 494 633.83 491.97 635.2 491.9 C636.57 491.83 641.98 493.37 643.6 494 C645.22 494.63 649.64 497.14 651.4 498.2 C653.16 499.26 659.9 503.4 661.2 504.6 C662.5 505.8 664.08 509.08 664.4 510.2 C664.72 511.32 665.42 515.8 664.4 515.8 C663.38 515.8 656.49 511.46 654.2 510.2 C651.91 508.94 643.75 504.33 641.5 503.2 C639.25 502.07 632.86 499.75 631.7 498.9 C630.54 498.05 629.55 495.4 629.9 494.7Z" fill="url(#pside)" stroke="#505050" stroke-width="0.6"/><path d="M647.2 498.5 L647 518.5 M631 508 L664.5 528.5 M632 510.5 L665 531" fill="none" stroke="#5c5c5c" stroke-width="0.6"/><ellipse cx="622.2" cy="500.4" rx="6.0" ry="7.8" transform="rotate(-18 622.2 500.4)" fill="#e2e2e2" stroke="#3a3a3a" stroke-width="1.5"/><path d="M622.2 500.4 L622.2 507.03 M622.2 500.4 L617.35 502.45 M622.2 500.4 L619.2 495.04 M622.2 500.4 L625.2 495.04 M622.2 500.4 L627.05 502.45 " stroke="#6a6a6a" stroke-width="0.8"/><circle cx="622.2" cy="500.4" r="1" fill="#777"/><ellipse cx="675.6" cy="531.0" rx="6.3" ry="8.0" transform="rotate(-18 675.6 531.0)" fill="#e2e2e2" stroke="#3a3a3a" stroke-width="1.5"/><path d="M675.6 531 L675.6 537.8 M675.6 531 L670.51 533.1 M675.6 531 L672.45 525.5 M675.6 531 L678.75 525.5 M675.6 531 L680.69 533.1 " stroke="#6a6a6a" stroke-width="0.8"/><circle cx="675.6" cy="531.0" r="1" fill="#777"/><path d="M687.8 529.8 C688.79 529.19 695.72 527.86 697.7 526.8 C699.68 525.74 706.53 519.51 707.6 519.2 C708.67 518.89 708.78 522.79 708.4 523.7 C708.02 524.61 705.48 527.38 703.8 528.3 C702.12 529.22 693.2 532.44 691.6 532.9 C690 533.36 688.18 533.21 687.8 532.9 C687.42 532.59 686.81 530.41 687.8 529.8Z" fill="#a9cde9" stroke="#5f84a6" stroke-width="0.5"/></g>
</defs>
<g stroke="#148791" stroke-width="3.6" stroke-linecap="butt"><line x1="39.1" y1="612" x2="115.4" y2="653.8"/><line x1="141.6" y1="625" x2="154" y2="631.6"/><line x1="181" y1="602.1" x2="193.3" y2="609"/><line x1="220.4" y1="580" x2="232.7" y2="586.5"/></g>
<use href="#carP" transform="translate(-488.4,64.9)"/>
<use href="#carP" transform="translate(-527.8,87.4)"/>
<use href="#carP" transform="translate(-567.2,109.2)"/>
<use href="#carA"/>
<use href="#carA" transform="translate(943.25,-167.9) scale(-1,1)"/>
<use href="#carA" transform="translate(1600.75,-149.9) scale(-1,1)"/>
<g transform="translate(382.6,232.9)"><ellipse cx="0" cy="0" rx="3.3" ry="4.1" fill="#000"/><path d="M-8.2 7 Q-8.2 5.2 -6 5.1 L6 5.1 Q8.2 5.2 8.2 7 L8.2 25 L-8.2 25 Z" fill="#000"/><path d="M-4.8 24 L5.6 24 L3.2 46.6 L-3 46.6 Z" fill="#000"/><path d="M-1.8 5.1 L1.6 5.1 L0 10.4 Z" fill="#fff"/></g>
<g transform="translate(360.4,242.3) rotate(-21)"><rect x="0.6" y="0.6" width="10.4" height="20.4" rx="1.5" fill="#fff" stroke="#000" stroke-width="1.3"/><line x1="0.6" y1="3.6" x2="11" y2="3.6" stroke="#000" stroke-width="1"/><line x1="0.6" y1="17.8" x2="11" y2="17.8" stroke="#000" stroke-width="1"/><circle cx="5.8" cy="10" r="2.6" fill="none" stroke="#000" stroke-width="1"/><circle cx="5.8" cy="10" r="0.9" fill="#000"/><path d="M4 12 L5.8 14.2 L7.6 12" fill="none" stroke="#000" stroke-width="0.9"/></g>
<g transform="translate(359.9,243.3) rotate(-31)" fill="none" stroke="#222" stroke-width="1"><path d="M-1.8 0.6 A2.4 2.4 0 0 1 0.6 -1.8"/><path d="M-3.8 0.6 A4.4 4.4 0 0 1 0.6 -3.8"/><path d="M-5.8 0.6 A6.4 6.4 0 0 1 0.6 -5.8"/></g>
<g transform="translate(1060,232.9)"><ellipse cx="0" cy="0" rx="2.9" ry="3.9" fill="#000"/><path d="M-6 5.4 L6.7 5.4 L4.5 13.7 Q6.5 20 6 25.6 Q5.5 30 4 32 L1.6 46 L-1.4 46 L-4 32 Q-5.6 28 -5 25.6 Q-5.5 19 -4.4 13.7 Z" fill="#000"/><path d="M-3 5.4 L3.5 5.4 L0 10.2 Z" fill="#fff"/></g>
<g transform="translate(1039.2,243) rotate(-23)"><rect x="0.6" y="0.6" width="10.4" height="20.4" rx="1.5" fill="#fff" stroke="#000" stroke-width="1.3"/><line x1="0.6" y1="3.6" x2="11" y2="3.6" stroke="#000" stroke-width="1"/><line x1="0.6" y1="17.8" x2="11" y2="17.8" stroke="#000" stroke-width="1"/><circle cx="5.8" cy="10" r="2.6" fill="none" stroke="#000" stroke-width="1"/><circle cx="5.8" cy="10" r="0.9" fill="#000"/><path d="M4 12 L5.8 14.2 L7.6 12" fill="none" stroke="#000" stroke-width="0.9"/></g>
<g transform="translate(1038.7,244) rotate(-33)" fill="none" stroke="#222" stroke-width="1"><path d="M-1.8 0.6 A2.4 2.4 0 0 1 0.6 -1.8"/><path d="M-3.8 0.6 A4.4 4.4 0 0 1 0.6 -3.8"/><path d="M-5.8 0.6 A6.4 6.4 0 0 1 0.6 -5.8"/></g>
<g transform="translate(850.4,610.9)"><ellipse cx="0" cy="0" rx="3.3" ry="4.1" fill="#000"/><path d="M-8.2 7 Q-8.2 5.2 -6 5.1 L6 5.1 Q8.2 5.2 8.2 7 L8.2 25 L-8.2 25 Z" fill="#000"/><path d="M-4.8 24 L5.6 24 L3.2 46.6 L-3 46.6 Z" fill="#000"/><path d="M-1.8 5.1 L1.6 5.1 L0 10.4 Z" fill="#fff"/></g>
<line x1="421.2" y1="213.1" x2="421.2" y2="276.6" stroke="#000" stroke-width="1.5"/>
<polygon points="420.5,213.1 455.7,213.1 463.9,225.35 455.7,237.6 420.5,237.6" fill="#000"/>
<text x="439.5" y="230.9" font-size="16" font-weight="bold" fill="#fff" text-anchor="middle">A</text>
<line x1="825" y1="592" x2="825" y2="653" stroke="#000" stroke-width="1.5"/>
<polygon points="825.7,592 790.5,592 782.3,604.25 790.5,616.5 825.7,616.5" fill="#000"/>
<text x="806.4" y="609.8" font-size="16" font-weight="bold" fill="#fff" text-anchor="middle">B</text>
<line x1="1082.4" y1="194" x2="1082.4" y2="258" stroke="#000" stroke-width="1.5"/>
<polygon points="1081.7,194 1116.9,194 1125.1,206.25 1116.9,218.5 1081.7,218.5" fill="#000"/>
<text x="1100.7" y="211.8" font-size="16" font-weight="bold" fill="#fff" text-anchor="middle">C</text>
<rect x="821.9" y="650.4" width="5.65" height="5.55" fill="#fff"/>
<rect x="827.55" y="650.4" width="5.65" height="5.55" fill="#000"/>
<rect x="821.9" y="655.95" width="5.65" height="5.55" fill="#000"/>
<rect x="827.55" y="655.95" width="5.65" height="5.55" fill="#fff"/>
<rect x="821.9" y="661.5" width="5.65" height="5.55" fill="#fff"/>
<rect x="827.55" y="661.5" width="5.65" height="5.55" fill="#000"/>
<rect x="821.9" y="667.05" width="5.65" height="5.55" fill="#000"/>
<rect x="827.55" y="667.05" width="5.65" height="5.55" fill="#fff"/>
<rect x="821.9" y="672.6" width="5.65" height="5.55" fill="#fff"/>
<rect x="827.55" y="672.6" width="5.65" height="5.55" fill="#000"/>
<rect x="821.9" y="678.15" width="5.65" height="5.55" fill="#000"/>
<rect x="827.55" y="678.15" width="5.65" height="5.55" fill="#fff"/>
<rect x="821.9" y="683.7" width="5.65" height="5.55" fill="#fff"/>
<rect x="827.55" y="683.7" width="5.65" height="5.55" fill="#000"/>
<rect x="821.9" y="689.25" width="5.65" height="5.55" fill="#000"/>
<rect x="827.55" y="689.25" width="5.65" height="5.55" fill="#fff"/>
<line x1="1055.3" y1="369.4" x2="1104.7" y2="369.4" stroke="#148791" stroke-width="3"/>
<line x1="1055.3" y1="396.4" x2="1104.7" y2="396.4" stroke="#000" stroke-width="3"/>
<text x="1116.4" y="372.5" font-size="13.5" font-weight="bold" fill="#148791" textLength="60.3" lengthAdjust="spacingAndGlyphs">без водія</text>
<text x="1116.4" y="399.4" font-size="13.5" font-weight="bold" fill="#111" textLength="101.5" lengthAdjust="spacingAndGlyphs">автоматизоване</text>
<text x="1116.4" y="414.7" font-size="13.5" font-weight="bold" fill="#111" textLength="135.4" lengthAdjust="spacingAndGlyphs">або ручне управління</text>
<g transform="translate(980.3,805.8)"><circle r="11.4" fill="#eeeeee" stroke="#8e8e8e" stroke-width="1.6"/><circle r="8.9" fill="none" stroke="#b4b4b4" stroke-width="1"/><path d="M-4.6 -8.2 V8.2 M4.6 -8.2 V8.2 M-4.6 -0.8 H4.6" stroke="#7f7f7f" stroke-width="1.6" fill="none"/><path d="M-6.5 -6 Q-8.6 0 -6.5 6 M6.5 -6 Q8.6 0 6.5 6" stroke="#9a9a9a" stroke-width="1" fill="none"/></g>
<text x="1002" y="813.9" font-size="23.5" font-weight="bold" fill="#d8101e" stroke="#d8101e" stroke-width="0.5" textLength="75.5" lengthAdjust="spacingAndGlyphs">BOSCH</text>
<text x="1108.3" y="813.5" font-size="22.4" fill="#111" stroke="#111" stroke-width="0.4" letter-spacing="1.2" textLength="126" lengthAdjust="spacingAndGlyphs" style="font-family:'Liberation Serif',serif">DAIMLER</text>
<g font-weight="bold">
<g opacity="1">
<text x="1179.5" y="778.5" font-size="35.5" fill="#b3b3b3" stroke="#b3b3b3" stroke-width="4" stroke-linejoin="round" textLength="47" lengthAdjust="spacingAndGlyphs" style="font-family:'Liberation Serif',serif">AU</text>
<text x="1179.5" y="778.5" font-size="35.5" fill="#fff" stroke="#fff" stroke-width="1.3" stroke-linejoin="round" textLength="47" lengthAdjust="spacingAndGlyphs" style="font-family:'Liberation Serif',serif">AU</text>
</g>
<g opacity="0.7">
<text x="1179.5" y="812.7" font-size="36" fill="#b3b3b3" stroke="#b3b3b3" stroke-width="4" stroke-linejoin="round" textLength="40" lengthAdjust="spacingAndGlyphs" style="font-family:'Liberation Serif',serif">TO</text>
<text x="1179.5" y="812.7" font-size="36" fill="#fff" stroke="#fff" stroke-width="1.3" stroke-linejoin="round" textLength="40" lengthAdjust="spacingAndGlyphs" style="font-family:'Liberation Serif',serif">TO</text>
</g>
<text x="1229.5" y="812.7" font-size="36" fill="#7b9dd2" stroke="#7b9dd2" stroke-width="2" stroke-linejoin="round" font-style="italic" textLength="42.5" lengthAdjust="spacingAndGlyphs" style="font-family:'Liberation Serif',serif">TO</text>
<text x="1205.5" y="846.3" font-size="35.5" fill="#7b9dd2" stroke="#7b9dd2" stroke-width="2.2" stroke-linejoin="round" textLength="66.8" lengthAdjust="spacingAndGlyphs" style="font-family:'Liberation Serif',serif">DAY</text>
</g>
<text transform="translate(104.8,87.2) scale(0.938,1)" x="0" y="0" font-size="35.3" fill="#0a0a0a">Безпілотні таксі - майбутнє міського транспорту</text>
</svg></body></html>
